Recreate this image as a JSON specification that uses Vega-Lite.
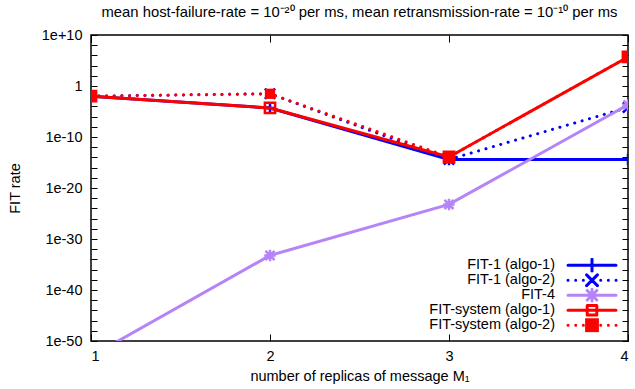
{
  "$schema": "https://vega.github.io/schema/vega-lite/v6.json",
  "width": 537,
  "height": 306,
  "autosize": "none",
  "padding": {"left": 91, "top": 35, "right": 7, "bottom": 48},
  "background": "white",
  "title": {
    "text": "mean host-failure-rate = 10⁻²⁰ per ms, mean retransmission-rate = 10⁻¹⁰ per ms",
    "font": "Liberation Sans",
    "fontSize": 14.8,
    "fontWeight": "normal",
    "color": "black",
    "anchor": "middle",
    "offset": 7
  },
  "config": {
    "view": {"stroke": "black", "strokeWidth": 1.5},
    "axis": {
      "grid": false,
      "domain": false,
      "labelFont": "Liberation Sans",
      "labelFontSize": 14.5,
      "labelColor": "black",
      "titleFont": "Liberation Sans",
      "titleFontSize": 14.5,
      "titleFontWeight": "normal",
      "titleColor": "black",
      "tickColor": "black",
      "tickWidth": 1
    },
    "legend": {
      "labelFont": "Liberation Sans",
      "labelFontSize": 14.5,
      "labelColor": "black"
    }
  },
  "data": {
    "values": [
      {"series": "FIT-1 (algo-1)", "x": 1, "y": 0.01},
      {"series": "FIT-1 (algo-1)", "x": 2, "y": 5e-5},
      {"series": "FIT-1 (algo-1)", "x": 3, "y": 4e-15},
      {"series": "FIT-1 (algo-1)", "x": 4, "y": 4e-15},
      {"series": "FIT-1 (algo-2)", "x": 1, "y": 0.01},
      {"series": "FIT-1 (algo-2)", "x": 2, "y": 0.03},
      {"series": "FIT-1 (algo-2)", "x": 3, "y": 4e-15},
      {"series": "FIT-1 (algo-2)", "x": 4, "y": 6e-5},
      {"series": "FIT-4", "x": 1, "y": 1e-53},
      {"series": "FIT-4", "x": 2, "y": 6e-34},
      {"series": "FIT-4", "x": 3, "y": 6e-24},
      {"series": "FIT-4", "x": 4, "y": 2e-4},
      {"series": "FIT-system (algo-1)", "x": 1, "y": 0.01},
      {"series": "FIT-system (algo-1)", "x": 2, "y": 5e-5},
      {"series": "FIT-system (algo-1)", "x": 3, "y": 1.2e-14},
      {"series": "FIT-system (algo-1)", "x": 4, "y": 5e5},
      {"series": "FIT-system (algo-2)", "x": 1, "y": 0.01},
      {"series": "FIT-system (algo-2)", "x": 2, "y": 0.03},
      {"series": "FIT-system (algo-2)", "x": 3, "y": 1.2e-14},
      {"series": "FIT-system (algo-2)", "x": 4, "y": 5e5}
    ]
  },
  "layer": [
    {
      "transform": [{"filter": "datum.series == 'FIT-1 (algo-1)'"}],
      "encoding": {
        "x": {
          "field": "x", "type": "quantitative",
          "scale": {"domain": [1, 4], "nice": false, "zero": false},
          "axis": {
            "orient": "bottom",
            "values": [1, 2, 3, 4],
            "format": "d",
            "tickSize": -7,
            "labelPadding": 15,
            "title": "number of replicas of message M₁",
            "titlePadding": 7
          }
        },
        "y": {
          "field": "y", "type": "quantitative",
          "scale": {"type": "log", "domain": [1e-50, 1e10], "nice": false},
          "axis": {
            "orient": "left",
            "values": [1e10, 1e8, 1e6, 1e4, 1e2, 1, 1e-2, 1e-4, 1e-6, 1e-8, 1e-10, 1e-12, 1e-14, 1e-16, 1e-18, 1e-20, 1e-22, 1e-24, 1e-26, 1e-28, 1e-30, 1e-32, 1e-34, 1e-36, 1e-38, 1e-40, 1e-42, 1e-44, 1e-46, 1e-48, 1e-50],
            "labelExpr": "(round(log(datum.value)/LN10) % 10 != 0) ? '' : (round(log(datum.value)/LN10) == 0 ? '1' : '1e' + (round(log(datum.value)/LN10) > 0 ? '+' : '') + round(log(datum.value)/LN10))",
            "labelOverlap": false,
            "labelFlush": false,
            "tickSize": -6,
            "labelPadding": 15,
            "title": "FIT rate",
            "titlePadding": 19
          }
        },
        "color": {
          "field": "series", "type": "nominal",
          "scale": {
            "domain": ["FIT-1 (algo-1)", "FIT-1 (algo-2)", "FIT-4", "FIT-system (algo-1)", "FIT-system (algo-2)"],
            "range": ["#0000ff", "#0000ff", "#b584f8", "#ff0000", "#ff0000"]
          },
          "legend": {
            "title": null,
            "orient": "none",
            "legendX": 469.5,
            "legendY": 223,
            "padding": 0,
            "symbolSize": 144,
            "symbolStrokeWidth": 3,
            "labelAlign": "right",
            "labelOffset": -20.5,
            "clipHeight": 14.5,
            "rowPadding": -1.6,
            "encode": {
              "entries": {
                "update": {
                  "width": {"value": 62},
                  "height": {"value": 14.5}
                }
              },
              "symbols": {
                "update": {
                  "shape": {"signal": "datum.value == 'FIT-1 (algo-1)' ? 'M0,0H8M4,-1V1' : datum.value == 'FIT-1 (algo-2)' ? 'M0,0h0.01M1.28,0h0.01M2.55,0h0.01M5.45,0h0.01M6.72,0h0.01M8,0h0.01M3.1,-0.9L4.9,0.9M3.1,0.9L4.9,-0.9' : datum.value == 'FIT-4' ? 'M0,0H8M4,-1V1M3.2,-0.8L4.8,0.8M3.2,0.8L4.8,-0.8' : datum.value == 'FIT-system (algo-1)' ? 'M0,0H8M3.2,-0.8H4.8M4.8,-0.8V0.8M4.8,0.8H3.2M3.2,0.8V-0.8' : 'M0,0h0.01M1.28,0h0.01M2.55,0h0.01M5.45,0h0.01M6.72,0h0.01M8,0h0.01M3.1,-0.9H4.9V0.9H3.1Z'"},
                  "strokeCap": {"value": "round"},
                  "strokeWidth": {"value": 3},
                  "opacity": {"value": 1}
                }
              }
            }
          }
        }
      },
      "layer": [
        {"mark": {"type": "line", "strokeWidth": 3, "strokeCap": "round", "clip": true}},
        {"mark": {"type": "point", "shape": "M-1,0H1M0,-1V1", "filled": false, "strokeWidth": 2.5, "size": 130, "opacity": 1, "clip": true}}
      ]
    },
    {
      "transform": [{"filter": "datum.series == 'FIT-1 (algo-2)'"}],
      "encoding": {
        "x": {
          "field": "x", "type": "quantitative",
          "scale": {"domain": [1, 4], "nice": false, "zero": false},
          "axis": {"orient": "top", "values": [1, 2, 3, 4], "labels": false, "tickSize": -7, "title": null}
        },
        "y": {
          "field": "y", "type": "quantitative",
          "scale": {"type": "log", "domain": [1e-50, 1e10], "nice": false},
          "axis": {
            "orient": "right",
            "values": [1e10, 1e8, 1e6, 1e4, 1e2, 1, 1e-2, 1e-4, 1e-6, 1e-8, 1e-10, 1e-12, 1e-14, 1e-16, 1e-18, 1e-20, 1e-22, 1e-24, 1e-26, 1e-28, 1e-30, 1e-32, 1e-34, 1e-36, 1e-38, 1e-40, 1e-42, 1e-44, 1e-46, 1e-48, 1e-50],
            "labels": false, "tickSize": -6, "title": null
          }
        },
        "color": {"field": "series", "type": "nominal", "legend": null}
      },
      "layer": [
        {"mark": {"type": "line", "strokeWidth": 3, "strokeCap": "round", "strokeDash": [0.1, 7.6], "clip": true}},
        {"mark": {"type": "point", "shape": "M-0.9,-0.9L0.9,0.9M-0.9,0.9L0.9,-0.9", "filled": false, "strokeWidth": 2.5, "size": 130, "opacity": 1, "clip": true}}
      ]
    },
    {
      "transform": [{"filter": "datum.series == 'FIT-4'"}],
      "encoding": {
        "x": {"field": "x", "type": "quantitative", "scale": {"domain": [1, 4], "nice": false, "zero": false}, "axis": null},
        "y": {"field": "y", "type": "quantitative", "scale": {"type": "log", "domain": [1e-50, 1e10], "nice": false}, "axis": null},
        "color": {"field": "series", "type": "nominal", "legend": null}
      },
      "layer": [
        {"mark": {"type": "line", "strokeWidth": 3, "strokeCap": "round", "clip": true}},
        {"mark": {"type": "point", "shape": "M-1,0H1M0,-1V1M-0.8,-0.8L0.8,0.8M-0.8,0.8L0.8,-0.8", "filled": false, "strokeWidth": 2.5, "size": 130, "opacity": 1, "clip": true}}
      ]
    },
    {
      "transform": [{"filter": "datum.series == 'FIT-system (algo-1)'"}],
      "encoding": {
        "x": {"field": "x", "type": "quantitative", "scale": {"domain": [1, 4], "nice": false, "zero": false}, "axis": null},
        "y": {"field": "y", "type": "quantitative", "scale": {"type": "log", "domain": [1e-50, 1e10], "nice": false}, "axis": null},
        "color": {"field": "series", "type": "nominal", "legend": null}
      },
      "layer": [
        {"mark": {"type": "line", "strokeWidth": 3, "strokeCap": "round", "clip": true}},
        {"mark": {"type": "point", "shape": "M-0.9,-0.9H0.9V0.9H-0.9Z", "filled": false, "strokeWidth": 2.5, "size": 130, "opacity": 1, "clip": true}}
      ]
    },
    {
      "transform": [{"filter": "datum.series == 'FIT-system (algo-2)'"}],
      "encoding": {
        "x": {"field": "x", "type": "quantitative", "scale": {"domain": [1, 4], "nice": false, "zero": false}, "axis": null},
        "y": {"field": "y", "type": "quantitative", "scale": {"type": "log", "domain": [1e-50, 1e10], "nice": false}, "axis": null},
        "color": {"field": "series", "type": "nominal", "legend": null}
      },
      "layer": [
        {"mark": {"type": "line", "strokeWidth": 3, "strokeCap": "round", "strokeDash": [0.1, 7.6], "clip": true}},
        {"mark": {"type": "point", "shape": "M-0.9,-0.9H0.9V0.9H-0.9Z", "filled": true, "strokeWidth": 2.5, "size": 130, "opacity": 1, "clip": true}}
      ]
    }
  ],
  "resolve": {"axis": {"x": "independent", "y": "independent"}}
}
